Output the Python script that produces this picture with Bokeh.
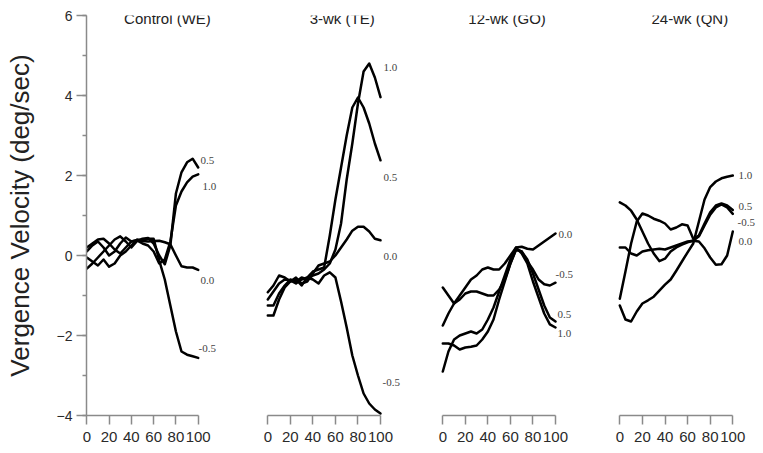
from bokeh.plotting import figure
from bokeh.layouts import row
from bokeh.models import Range1d, SingleIntervalTicker, Label
from bokeh.core.properties import value
from bokeh.embed import file_html
from bokeh.resources import INLINE

# ---------------- data ----------------
x_pct = [0, 5, 10, 15, 20, 25, 30, 35, 40, 45, 50, 55, 60, 65, 70, 75, 80, 85, 90, 95, 100]
x_ticks_label = ["0", "20", "40", "60", "80", "100"]
titles = ["Control (WE)", "3-wk (TE)", "12-wk (GO)", "24-wk (QN)"]
y_label = "Vergence Velocity (deg/sec)"

# Control (WE)
we_names = ["0.5", "1.0", "0.0", "-0.5"]
we_05 = [-0.33, -0.2, -0.05, 0.1, 0.25, 0.4, 0.48, 0.35, 0.2, 0.36, 0.42, 0.44, 0.3, 0.0, -0.22, 0.25, 1.55, 2.08, 2.33, 2.42, 2.2]
we_10 = [0.1, 0.25, 0.35, 0.2, 0.0, 0.1, 0.3, 0.45, 0.35, 0.38, 0.3, 0.25, 0.1, -0.2, -0.1, 0.35, 1.25, 1.6, 1.83, 1.97, 2.03]
we_00 = [0.2, 0.3, 0.4, 0.42, 0.3, 0.15, 0.05, 0.2, 0.35, 0.38, 0.36, 0.35, 0.36, 0.37, 0.33, 0.28, 0.0, -0.27, -0.3, -0.3, -0.36]
we_m05 = [-0.05, -0.15, -0.25, -0.1, -0.28, -0.2, 0.0, 0.1, 0.25, 0.4, 0.38, 0.42, 0.42, -0.12, -0.6, -1.25, -1.9, -2.4, -2.48, -2.52, -2.56]

# 3-wk (TE)
te_names = ["1.0", "0.5", "0.0", "-0.5"]
te_10 = [-1.25, -1.25, -0.95, -0.75, -0.6, -0.65, -0.55, -0.6, -0.5, -0.45, -0.35, -0.2, 0.15, 0.8, 1.9, 2.8, 3.8, 4.6, 4.8, 4.45, 3.96]
te_05 = [-1.1, -0.9, -0.7, -0.6, -0.62, -0.7, -0.6, -0.55, -0.4, -0.35, -0.3, 0.5, 1.4, 2.2, 3.0, 3.7, 3.95, 3.7, 3.3, 2.8, 2.38]
te_00 = [-0.92, -0.75, -0.5, -0.55, -0.65, -0.55, -0.7, -0.65, -0.45, -0.25, -0.2, -0.15, 0.0, 0.2, 0.4, 0.62, 0.72, 0.72, 0.6, 0.42, 0.38]
te_m05 = [-1.5, -1.5, -1.1, -0.8, -0.65, -0.6, -0.75, -0.55, -0.6, -0.7, -0.5, -0.42, -0.55, -1.15, -1.8, -2.5, -3.0, -3.45, -3.7, -3.85, -3.95]

# 12-wk (GO)
go_names = ["0.0", "-0.5", "0.5", "1.0"]
go_00 = [-1.75, -1.45, -1.2, -1.0, -0.8, -0.6, -0.5, -0.35, -0.3, -0.35, -0.35, -0.2, 0.0, 0.2, 0.22, 0.17, 0.15, 0.25, 0.35, 0.45, 0.55]
go_m05 = [-0.8, -1.0, -1.2, -1.1, -0.95, -0.9, -0.9, -0.95, -1.0, -1.0, -0.85, -0.6, -0.2, 0.15, 0.1, -0.15, -0.35, -0.6, -0.72, -0.75, -0.68]
go_05 = [-2.2, -2.2, -2.25, -2.35, -2.3, -2.28, -2.25, -2.1, -1.9, -1.6, -1.1, -0.65, -0.2, 0.15, 0.1, -0.1, -0.45, -0.85, -1.25, -1.55, -1.65]
go_10 = [-2.9, -2.4, -2.1, -2.0, -1.95, -1.9, -1.95, -1.85, -1.6, -1.3, -0.9, -0.5, -0.1, 0.2, 0.05, -0.2, -0.65, -1.05, -1.45, -1.72, -1.8]

# 24-wk (QN)
qn_names = ["1.0", "0.5", "-0.5", "0.0"]
qn_10 = [-1.25, -1.6, -1.65, -1.4, -1.2, -1.12, -1.03, -0.88, -0.73, -0.6, -0.38, -0.15, 0.08, 0.3, 0.85, 1.4, 1.71, 1.85, 1.93, 1.97, 2.0]
qn_05 = [-1.08, -0.4, 0.3, 0.85, 1.05, 1.0, 0.92, 0.87, 0.8, 0.65, 0.7, 0.78, 0.75, 0.42, 0.5, 0.8, 1.08, 1.25, 1.3, 1.25, 1.14]
qn_m05 = [1.33, 1.25, 1.12, 0.9, 0.6, 0.3, 0.05, -0.14, -0.08, 0.1, 0.2, 0.27, 0.33, 0.37, 0.48, 0.75, 1.02, 1.2, 1.28, 1.2, 1.04]
qn_00 = [0.2, 0.2, 0.05, 0.0, 0.1, 0.13, 0.15, 0.17, 0.15, 0.2, 0.25, 0.3, 0.35, 0.37, 0.35, 0.18, -0.05, -0.23, -0.22, 0.0, 0.6]

# ---------------- layout / style (not data) ----------------
series = [
    [we_05, we_10, we_00, we_m05],
    [te_10, te_05, te_00, te_m05],
    [go_00, go_m05, go_05, go_10],
    [qn_10, qn_05, qn_m05, qn_00],
]
names = [we_names, te_names, go_names, qn_names]
label_x = [[102, 103.9, 102, 100.3],
           [102.7, 102.7, 102.7, 101.8],
           [102.7, 100, 101.8, 101.8],
           [105, 105, 104.2, 105]]
label_y = [[2.375, 1.725, -0.625, -2.325],
           [4.7, 1.95, -0.025, -3.175],
           [0.525, -0.475, -1.475, -1.95],
           [2.0, 1.23, 0.825, 0.35]]
title_x = [72.4, 66, 57, 62]

ZERO_PX = [86.3, 267.3, 442.3, 619.3]      # page px of x=0 per panel
SCALE = [1.114, 1.127, 1.127, 1.13]        # px per x unit
EDGES = [86, 230, 415, 595, 757]           # page px of frame edges
TOP_PX, FRAME_H, FIG_H = 15, 400, 450

AXIS_GREY = "#8a8a8a"
TEXT_DARK = "#2a2a2a"
FONT = "Liberation Sans"

y_range = Range1d(-4, 6)
figs = []
for i in range(4):
    fw = EDGES[i + 1] - EDGES[i]
    left = EDGES[0] if i == 0 else 0
    x0 = (EDGES[i] - ZERO_PX[i]) / SCALE[i]
    x1 = (EDGES[i + 1] - ZERO_PX[i]) / SCALE[i]
    p = figure(width=fw + left, height=FIG_H,
               x_range=Range1d(x0, x1), y_range=y_range,
               output_backend="svg", toolbar_location=None,
               min_border_left=left, min_border_right=0,
               min_border_top=TOP_PX, min_border_bottom=FIG_H - TOP_PX - FRAME_H)
    p.outline_line_color = None
    p.grid.visible = False
    p.background_fill_color = "white"
    p.border_fill_color = "white"

    xa = p.xaxis[0]
    xa.ticker = SingleIntervalTicker(interval=20, num_minor_ticks=0)
    xa.bounds = (0, 100)
    xa.axis_line_color = AXIS_GREY
    xa.axis_line_width = 1.5
    xa.major_tick_line_color = AXIS_GREY
    xa.major_tick_line_width = 1.5
    xa.major_tick_in = 0
    xa.major_tick_out = 9
    xa.minor_tick_line_color = None
    xa.major_label_standoff = 7
    xa.major_label_text_font = FONT
    xa.major_label_text_font_size = "15px"
    xa.major_label_text_color = TEXT_DARK
    xa.major_label_overrides = {v: s for v, s in zip(range(0, 101, 20), x_ticks_label)}

    ya = p.yaxis[0]
    if i == 0:
        ya.ticker = SingleIntervalTicker(interval=2, num_minor_ticks=2)
        ya.axis_line_color = AXIS_GREY
        ya.axis_line_width = 1.5
        ya.major_tick_line_color = AXIS_GREY
        ya.major_tick_line_width = 1.5
        ya.minor_tick_line_color = AXIS_GREY
        ya.minor_tick_line_width = 1.5
        ya.major_tick_in = 0
        ya.major_tick_out = 10
        ya.minor_tick_in = 0
        ya.minor_tick_out = 4
        ya.major_label_standoff = 4
        ya.major_label_text_font = FONT
        ya.major_label_text_font_size = "14px"
        ya.major_label_text_color = TEXT_DARK
        ya.axis_label = y_label
        ya.axis_label_text_font = FONT
        ya.axis_label_text_font_size = "26px"
        ya.axis_label_text_font_style = "normal"
        ya.axis_label_text_color = "#222222"
        ya.axis_label_standoff = 19
    else:
        ya.visible = False

    for ys in series[i]:
        p.line(x_pct, ys, line_color="black", line_width=2.5, line_join="round", line_cap="round")

    p.text(x=label_x[i], y=label_y[i], text=names[i],
           text_font=value("Liberation Serif"), text_font_size=value("11px"),
           text_color="#444444", text_align="left", text_baseline="middle")

    p.add_layout(Label(x=title_x[i], y=5.925, text=titles[i], text_align="center",
                       text_baseline="middle", text_font=FONT, text_font_size="15px",
                       text_color="#222222"))
    figs.append(p)

layout = row(*figs)
open("out.html", "w").write(file_html(layout, INLINE))
